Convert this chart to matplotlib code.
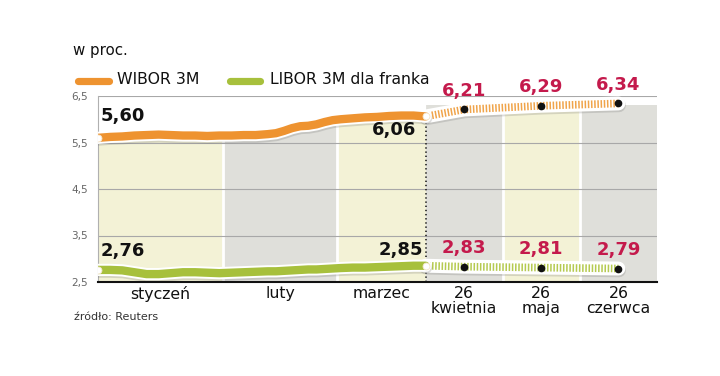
import matplotlib
matplotlib.use('Agg')
import matplotlib.pyplot as plt
import matplotlib.patheffects as pe
from matplotlib.lines import Line2D

plt.rcParams['font.family'] = ['DejaVu Sans']
plt.rcParams['lines.scale_dashes'] = False

# historical fixings, day counted from 1 January
hist_days = [0, 3, 6, 9, 12, 15, 18, 21, 24, 27, 30, 33, 36, 39, 42, 44, 46, 48,
             50, 52, 54, 56, 58, 60, 63, 66, 69, 72, 75, 78, 81]
wibor_hist = [5.60, 5.62, 5.63, 5.65, 5.66, 5.67, 5.66, 5.65, 5.65, 5.64, 5.65,
              5.65, 5.66, 5.66, 5.68, 5.70, 5.75, 5.81, 5.85, 5.86, 5.89, 5.94,
              5.98, 6.00, 6.02, 6.04, 6.05, 6.07, 6.08, 6.08, 6.06]
libor_hist = [2.76, 2.76, 2.75, 2.71, 2.67, 2.67, 2.69, 2.71, 2.71, 2.70, 2.69,
              2.70, 2.71, 2.72, 2.73, 2.73, 2.74, 2.75, 2.76, 2.77, 2.77, 2.78,
              2.79, 2.80, 2.81, 2.81, 2.82, 2.83, 2.84, 2.85, 2.85]

month_labels = ['styczeń', 'luty', 'marzec']
month_bounds = [0, 31, 59, 81]

# forecasts
forecast_labels = ['26\nkwietnia', '26\nmaja', '26\nczerwca']
wibor_forecast = [6.21, 6.29, 6.34]
libor_forecast = [2.83, 2.81, 2.79]

ORANGE = '#ee9330'
ORANGE_LIGHT = '#f0a44a'
GREEN = '#a7c03c'
GREEN_LIGHT = '#b5ca50'
RED = '#c41a4c'
YELLOW_BAND = '#f3f2d6'
GREY_BAND = '#dfdfda'

SLOT = 19.07  # width of one forecast column in axis units
split = hist_days[-1]
fc_x = [split + (i + 0.5) * SLOT for i in range(len(forecast_labels))]
fc_edges = [split + i * SLOT for i in range(len(forecast_labels) + 1)]

fig = plt.figure(figsize=(7.2, 3.76), dpi=100)
ax = fig.add_axes([98 / 720, 1 - 282 / 376, 559 / 720, 186 / 376])
ax.set_xlim(0, fc_edges[-1])
ax.set_ylim(2.5, 6.5)

# column bands
edges = month_bounds + fc_edges[1:]
for i in range(len(edges) - 1):
    ax.fill_between([edges[i], edges[i + 1]], 2.5, 6.3,
                    color=YELLOW_BAND if i % 2 == 0 else GREY_BAND, lw=0, zorder=0)
# white area above the historical WIBOR line
ax.fill_between(hist_days, wibor_hist, 6.5, color='white', lw=0, zorder=0.5)
for e in edges[1:-1]:
    if e == split:
        continue
    ax.axvline(e, color='white', lw=2, zorder=0.6)

for v in [3.5, 4.5, 5.5, 6.5]:
    ax.axhline(v, color='#a8a8a8', lw=0.8, zorder=0.7)
ax.plot([split, split], [2.5, wibor_hist[-1]], color='#222', lw=1.2,
        ls=(0, (1, 2)), zorder=0.8)

shadow = [pe.SimpleLineShadow(offset=(0.4, -1.3), shadow_color='#666', alpha=0.22),
          pe.Normal()]


def num(v):
    return f'{v:.2f}'.replace('.', ',')


def draw_series(hist, fc, color, light):
    fx = [split] + fc_x
    fy = [hist[-1]] + fc
    ax.plot(fx, fy, color='white', lw=10, solid_capstyle='round',
            solid_joinstyle='round', path_effects=shadow, zorder=2)
    ax.plot(fx, fy, color=light, lw=5.5, ls=(0, (1.1, 1.2)),
            dash_capstyle='butt', zorder=3)
    ax.plot(fc_x, fc, 'o', color='#111', ms=4.5, zorder=4)
    ax.plot(hist_days, hist, color='white', lw=8.8, solid_capstyle='round',
            solid_joinstyle='round', path_effects=shadow, zorder=5)
    ax.plot(hist_days, hist, color=color, lw=6, solid_capstyle='round',
            solid_joinstyle='round', zorder=6)
    ax.plot([hist_days[0], hist_days[-1]], [hist[0], hist[-1]], 'o',
            color='white', mec='#f4e6cc', mew=0.6, ms=5, zorder=7)
    for x, y in zip(fc_x, fc):
        ax.annotate(num(y), (x, y), xytext=(0, 13.5),
                    textcoords='offset points', ha='center', va='center',
                    fontsize=13, fontweight='bold', color=RED, zorder=8)


draw_series(wibor_hist, wibor_forecast, ORANGE, ORANGE_LIGHT)
draw_series(libor_hist, libor_forecast, GREEN, GREEN_LIGHT)

ax.annotate(num(wibor_hist[0]), (hist_days[0], wibor_hist[0]), xytext=(2, 16),
            textcoords='offset points', ha='left', va='center',
            fontsize=13, fontweight='bold', color='#111', zorder=8)
ax.annotate(num(wibor_hist[-1]), (hist_days[-1], wibor_hist[-1]), xytext=(-7, -9.5),
            textcoords='offset points', ha='right', va='center',
            fontsize=13, fontweight='bold', color='#111', zorder=8)
ax.annotate(num(libor_hist[0]), (hist_days[0], libor_hist[0]), xytext=(2, 13.5),
            textcoords='offset points', ha='left', va='center',
            fontsize=13, fontweight='bold', color='#111', zorder=8)
ax.annotate(num(libor_hist[-1]), (hist_days[-1], libor_hist[-1]), xytext=(-2, 11),
            textcoords='offset points', ha='right', va='center',
            fontsize=13, fontweight='bold', color='#111', zorder=8)

# axes styling
for s in ['top', 'right']:
    ax.spines[s].set_visible(False)
ax.spines['left'].set_color('#b0b0b0')
ax.spines['left'].set_linewidth(0.8)
ax.spines['bottom'].set_color('#111')
ax.spines['bottom'].set_linewidth(1.5)
ax.spines['bottom'].set_zorder(9)

ax.set_yticks([2.5, 3.5, 4.5, 5.5, 6.5])
ax.set_yticklabels(['2,5', '3,5', '4,5', '5,5', '6,5'])
ax.tick_params(axis='y', length=0, pad=7, labelsize=7.5, labelcolor='#666')

month_mid = [(month_bounds[i] + month_bounds[i + 1]) / 2 for i in range(len(month_labels))]
ax.set_xticks(month_mid + fc_x)
ax.set_xticklabels(month_labels + forecast_labels, linespacing=0.95)
ax.tick_params(axis='x', length=0, pad=3, labelsize=11.3, labelcolor='#111')

# header and legend
fig.text(73 / 720, 1 - 51 / 376, 'w proc.', fontsize=10.8, color='#111', va='center')
for x0, x1, c, lab, tx in [(78, 109, ORANGE, 'WIBOR 3M', 117),
                           (230, 260, GREEN, 'LIBOR 3M dla franka', 270)]:
    fig.add_artist(Line2D([x0 / 720, x1 / 720], [1 - 80.5 / 376] * 2, color=c, lw=5.2,
                          solid_capstyle='round'))
    fig.text(tx / 720, 1 - 80 / 376, lab, fontsize=11.3, color='#111', va='center')

fig.text(74 / 720, 1 - 317 / 376, 'źródło: Reuters', fontsize=8, color='#333', va='center')

fig.savefig('out.png', dpi=100, facecolor='white')
